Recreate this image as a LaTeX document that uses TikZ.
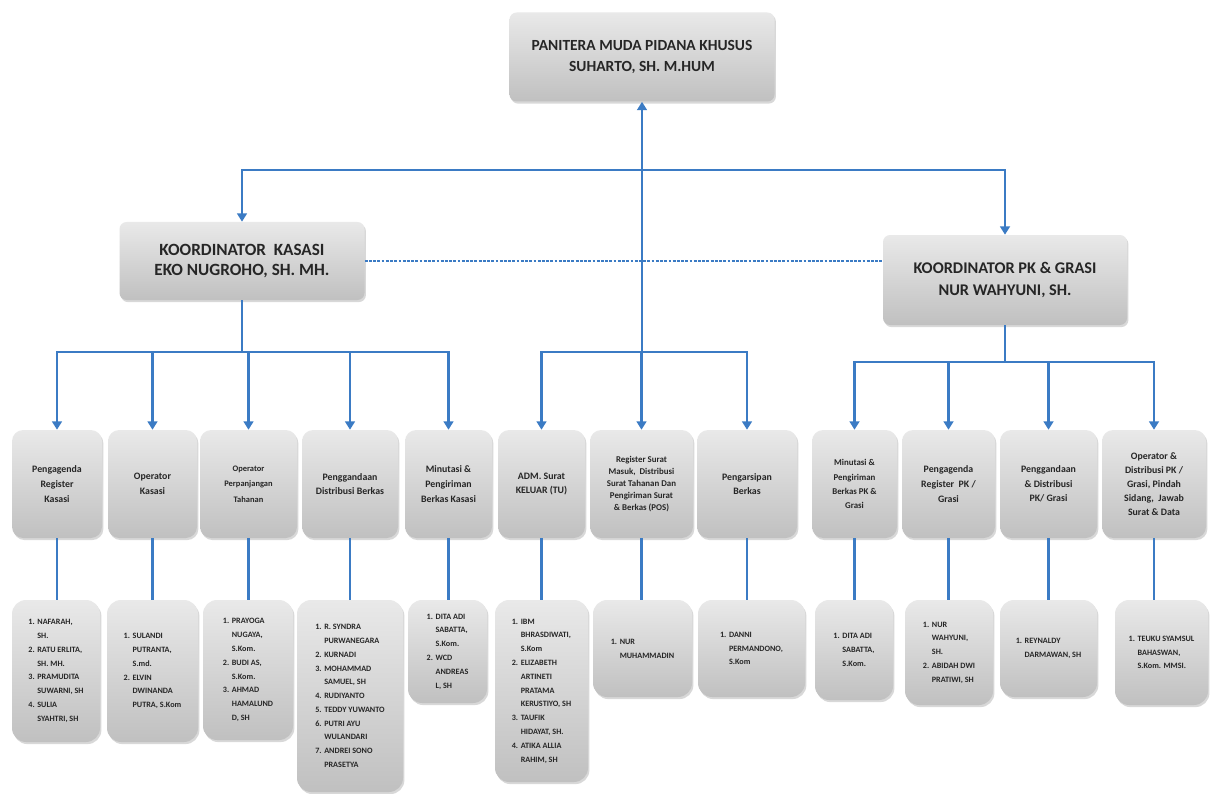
\documentclass[tikz,border=0pt]{standalone}
\usepackage{fontspec}
\setmainfont{Carlito}
\usetikzlibrary{positioning,arrows.meta,shadows}
\definecolor{cazul}{HTML}{3B7BC4}
\definecolor{cgrisclaro}{HTML}{E9E9E9}
\definecolor{cgris}{HTML}{C0C0C0}
\definecolor{ctexto}{HTML}{262626}
\newcommand{\nmr}[1]{\makebox[1.1em][l]{#1.}}
\newcommand{\sgt}{\hspace*{1.1em}}

\begin{document}
\begin{tikzpicture}[x=0.025cm,y=-0.025cm,
  caja/.style={rounded corners=8pt, top color=cgrisclaro, bottom color=cgris,
    drop shadow={opacity=0.3,shadow xshift=1pt,shadow yshift=-1.5pt},
    text=ctexto, inner sep=2pt},
  tam/.style 2 args={minimum width=#1*0.025cm, minimum height=#2*0.025cm},
  jefe/.style={caja, rounded corners=5pt, align=center, font=\bfseries\fontsize{11}{15}\selectfont},
  unidad/.style={caja, align=center, font=\bfseries\fontsize{7}{10.5}\selectfont},
  staf/.style={caja, rounded corners=10pt, align=left, font=\bfseries\fontsize{5.8}{9.8}\selectfont},
  enlace/.style={draw=cazul, line width=2.1pt},
  flecha/.style={enlace, -{Triangle[length=6pt,width=7pt]}},
  punteada/.style={draw=cazul, line width=1pt, dash pattern=on 2pt off 1pt}]
  \fill[white] (0,0) rectangle (1210,794);
  \useasboundingbox (0,0) rectangle (1210,794);

  \node[jefe, tam={265}{89}] (pan) at (642,57) {PANITERA MUDA PIDANA KHUSUS\\SUHARTO, SH. M.HUM};
  \node[jefe, tam={245}{78}, font=\bfseries\fontsize{12.2}{14.5}\selectfont] (kas) at (242,261) {KOORDINATOR \ KASASI\\EKO NUGROHO, SH. MH.};
  \node[jefe, tam={244}{90}, font=\bfseries\fontsize{11.6}{15}\selectfont] (pk) at (1005,280) {KOORDINATOR PK \& GRASI\\NUR WAHYUNI, SH.};

  \node[unidad, tam={90}{108}] (pr) at (57,484) {Pengagenda\\Register\\Kasasi};
  \node[unidad, tam={89}{108}] (ok) at (152.5,484) {Operator\\Kasasi};
  \node[unidad, tam={97}{108}, font=\bfseries\fontsize{6}{11}\selectfont] (op) at (248.5,484) {Operator\\Perpanjangan\\Tahanan};
  \node[unidad, tam={96}{108}] (pd) at (350,484) {Penggandaan\\Distribusi Berkas};
  \node[unidad, tam={87}{108}] (mk) at (448.5,484) {Minutasi \&\\Pengiriman\\Berkas Kasasi};
  \node[unidad, tam={87}{108}] (adm) at (541.5,484) {ADM. Surat\\KELUAR (TU)};
  \node[unidad, tam={103}{108}, font=\bfseries\fontsize{6.3}{8.4}\selectfont] (rs) at (641.5,484) {Register Surat\\Masuk, \ Distribusi\\Surat Tahanan Dan\\Pengiriman Surat\\\& Berkas (POS)};
  \node[unidad, tam={100}{108}] (pb) at (747,484) {Pengarsipan\\Berkas};
  \node[unidad, tam={85}{108}, font=\bfseries\fontsize{6.3}{10}\selectfont] (mp) at (854.5,484) {Minutasi \&\\Pengiriman\\Berkas PK \&\\Grasi};
  \node[unidad, tam={93}{108}] (rp) at (948.5,484) {Pengagenda\\Register \ PK /\\Grasi};
  \node[unidad, tam={97}{108}] (gp) at (1048.5,484) {Penggandaan\\\& Distribusi\\PK/ Grasi};
  \node[unidad, tam={104}{108}, font=\bfseries\fontsize{7}{10}\selectfont] (dp) at (1154,484) {Operator \&\\Distribusi PK /\\Grasi, Pindah\\Sidang, \ Jawab\\Surat \& Data};

  \node[staf, tam={88}{142}] (s1) at (56,671) {\nmr{1}NAFARAH,\\\sgt SH.\\\nmr{2}RATU ERLITA,\\\sgt SH. MH.\\\nmr{3}PRAMUDITA\\\sgt SUWARNI, SH\\\nmr{4}SULIA\\\sgt SYAHTRI, SH};
  \node[staf, tam={91}{142}] (s2) at (152.5,671) {\nmr{1}SULANDI\\\sgt PUTRANTA,\\\sgt S.md.\\\nmr{2}ELVIN\\\sgt DWINANDA\\\sgt PUTRA, S.Kom};
  \node[staf, tam={90}{140}] (s3) at (248,670) {\nmr{1}PRAYOGA\\\sgt NUGAYA,\\\sgt S.Kom.\\\nmr{2}BUDI AS,\\\sgt S.Kom.\\\nmr{3}AHMAD\\\sgt HAMALUND\\\sgt D, SH};
  \node[staf, tam={106}{192}] (s4) at (350,696) {\nmr{1}R. SYNDRA\\\sgt PURWANEGARA\\\nmr{2}KURNADI\\\nmr{3}MOHAMMAD\\\sgt SAMUEL, SH\\\nmr{4}RUDIYANTO\\\nmr{5}TEDDY YUWANTO\\\nmr{6}PUTRI AYU\\\sgt WULANDARI\\\nmr{7}ANDREI SONO\\\sgt PRASETYA};
  \node[staf, tam={79}{103}] (s5) at (447.5,651.5) {\nmr{1}DITA ADI\\\sgt SABATTA,\\\sgt S.Kom.\\\nmr{2}WCD\\\sgt ANDREAS\\\sgt L, SH};
  \node[staf, tam={93}{182}] (s6) at (541.5,691) {\nmr{1}IBM\\\sgt BHRASDIWATI,\\\sgt S.Kom\\\nmr{2}ELIZABETH\\\sgt ARTINETI\\\sgt PRATAMA\\\sgt KERUSTIYO, SH\\\nmr{3}TAUFIK\\\sgt HIDAYAT, SH.\\\nmr{4}ATIKA ALLIA\\\sgt RAHIM, SH};
  \node[staf, tam={99}{97}] (s7) at (642.5,648.5) {\nmr{1}NUR\\\sgt MUHAMMADIN};
  \node[staf, tam={107}{97}] (s8) at (751.5,648.5) {\nmr{1}DANNI\\\sgt PERMANDONO,\\\sgt S.Kom};
  \node[staf, tam={78}{100}] (s9) at (854,650) {\nmr{1}DITA ADI\\\sgt SABATTA,\\\sgt S.Kom.};
  \node[staf, tam={88}{105}] (s10) at (949,652.5) {\nmr{1}NUR\\\sgt WAHYUNI,\\\sgt SH.\\\nmr{2}ABIDAH DWI\\\sgt PRATIWI, SH};
  \node[staf, tam={97}{97}] (s11) at (1048.5,648.5) {\nmr{1}REYNALDY\\\sgt DARMAWAN, SH};
  \node[staf, tam={93}{105}] (s12) at (1161.5,652.5) {\nmr{1}TEUKU SYAMSUL\\\sgt BAHASWAN,\\\sgt S.Kom. MMSI.};

  \coordinate (bsup) at (642,170);
  \coordinate (bmed) at (642,352);
  \coordinate (bkas) at (242,352);
  \coordinate (bpk) at (1005,362);
  \draw[flecha] (bmed) -- (pan.south);
  \draw[flecha] (bsup) -| (kas.north);
  \draw[flecha] (bsup) -| (pk.north);
  \draw[punteada] (kas.east) -- (kas.east -| pk.west);
  \draw[enlace] (kas.south) -- (bkas);
  \draw[enlace] (pk.south) -- (bpk);
  \foreach \u in {pr,ok,op,pd,mk}
    \draw[flecha] (bkas) -| (\u.north);
  \foreach \u in {adm,rs,pb}
    \draw[flecha] (bmed) -| (\u.north);
  \foreach \u in {mp,rp,gp,dp}
    \draw[flecha] (bpk) -| (\u.north);
  \foreach \u/\s in {pr/s1,ok/s2,op/s3,pd/s4,mk/s5,adm/s6,rs/s7,pb/s8,mp/s9,rp/s10,gp/s11,dp/s12}
    \draw[enlace] (\u.south) -- (\u.south |- \s.north);
\end{tikzpicture}
\end{document}
